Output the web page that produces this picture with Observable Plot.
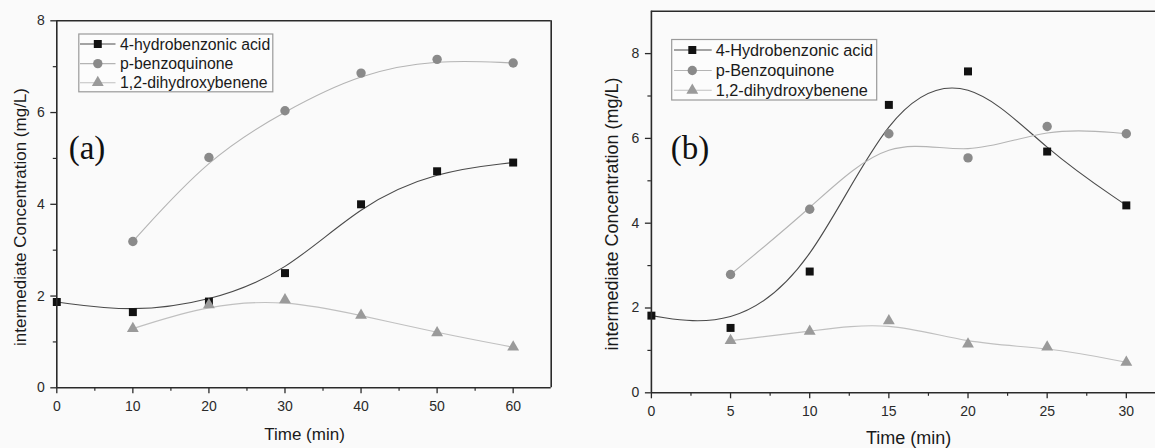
<!DOCTYPE html>
<html><head><meta charset="utf-8">
<script src="https://cdn.jsdelivr.net/npm/d3@7"></script>
<script src="https://cdn.jsdelivr.net/npm/@observablehq/plot@0.6"></script>
<style>
html,body{margin:0;padding:0;background:#fafafa;overflow:hidden;}
#wrap{position:relative;width:1155px;height:448px;overflow:hidden;background:#fafafa;}
#wrap svg{position:absolute;top:0;}
</style></head><body><div id="wrap"></div>
<script>
// ---------- Panel (a) data ----------
const timeA = [0, 10, 20, 30, 40, 50, 60];
const acidA = [1.87, 1.65, 1.88, 2.50, 4.00, 4.72, 4.91];
const timeA2 = [10, 20, 30, 40, 50, 60];
const quinoneA = [3.19, 5.02, 6.04, 6.86, 7.16, 7.08];
const catecholA = [1.29, 1.81, 1.92, 1.58, 1.20, 0.885];
const namesA = ["4-hydrobenzonic acid", "p-benzoquinone", "1,2-dihydroxybenene"];
const xTicksA = [0, 10, 20, 30, 40, 50, 60];
const xMinorA = [5, 15, 25, 35, 45, 55];
const yTicksA = [0, 2, 4, 6, 8];
const yMinorA = [1, 3, 5, 7];

// ---------- Panel (b) data ----------
const timeB = [0, 5, 10, 15, 20, 25, 30];
const acidB = [1.82, 1.53, 2.86, 6.79, 7.58, 5.69, 4.42];
const timeB2 = [5, 10, 15, 20, 25, 30];
const quinoneB = [2.79, 4.33, 6.11, 5.54, 6.28, 6.11];
const catecholB = [1.23, 1.45, 1.70, 1.15, 1.08, 0.72];
const namesB = ["4-Hydrobenzonic acid", "p-Benzoquinone", "1,2-dihydroxybenene"];
const xTicksB = [0, 5, 10, 15, 20, 25, 30];
const xMinorB = [2.5, 7.5, 12.5, 17.5, 22.5, 27.5];
const yTicksB = [0, 2, 4, 6, 8];
const yMinorB = [1, 3, 5, 7];

const yTitle = "intermediate Concentration (mg/L)";
const xTitle = "Time (min)";

const styles = [
  {symbol: "square",   fill: "#111111", line: "#4a4a4a", r: 4.5},
  {symbol: "circle",   fill: "#8a8a8a", line: "#b4b4b4", r: 4.7},
  {symbol: "triangle", fill: "#9a9a9a", line: "#c0c0c0", r: 4.4}
];
const FONT = "'Liberation Sans', Arial, sans-serif";
const AXIS = "#2a2a2a";

function zip(xs, ys) { return xs.map((x, i) => ({x, y: ys[i]})); }

function panel(cfg) {
  const marks = [];
  cfg.series.forEach((s, i) => {
    const st = styles[i];
    marks.push(Plot.line(s, {x: "x", y: "y", curve: "basis", stroke: st.line, strokeWidth: 1.1}));
  });
  cfg.series.forEach((s, i) => {
    const st = styles[i];
    marks.push(Plot.dot(s, {x: "x", y: "y", symbol: () => st.symbol, fill: st.fill, r: st.r, stroke: "none"}));
  });
  marks.push(
    Plot.axisX(cfg.xTicks, {tickSize: 6, tickPadding: 7, fontSize: 14, color: AXIS, strokeWidth: 1.3, label: null}),
    Plot.axisX(cfg.xMinor, {tickSize: 3.5, tickFormat: () => "", color: AXIS, strokeWidth: 1.2, label: null}),
    Plot.axisY(cfg.yTicks, {tickSize: 6, tickPadding: 6, fontSize: 14, color: AXIS, strokeWidth: 1.3, label: null}),
    Plot.axisY(cfg.yMinor, {tickSize: 3.5, tickFormat: () => "", color: AXIS, strokeWidth: 1.2, label: null}),
    Plot.ruleY([0], {stroke: AXIS, strokeWidth: 1.6}),
    Plot.ruleX([0], {stroke: AXIS, strokeWidth: 1.6}),
    Plot.ruleY([cfg.yDomain[1]], {stroke: AXIS, strokeWidth: 1.6})
  );
  if (cfg.rightFrame) marks.push(Plot.ruleX([cfg.xDomain[1]], {stroke: AXIS, strokeWidth: 1.6}));
  const svg = Plot.plot({
    width: cfg.width, height: 448,
    marginLeft: cfg.ml, marginRight: cfg.mr, marginTop: cfg.mt, marginBottom: cfg.mb,
    x: {domain: cfg.xDomain},
    y: {domain: cfg.yDomain},
    style: {fontFamily: FONT, background: "transparent", overflow: "visible"},
    marks
  });
  svg.style.left = cfg.left + "px";
  const g = d3.select(svg);
  // axis titles
  g.append("text").attr("x", cfg.xt[0]).attr("y", cfg.xt[1]).attr("text-anchor", "middle")
    .attr("font-family", FONT).attr("font-size", cfg.titleSize).attr("fill", "#1a1a1a").text(xTitle);
  g.append("text").attr("transform", `translate(${cfg.yt[0]},${cfg.yt[1]}) rotate(-90)`)
    .attr("text-anchor", "middle").attr("dy", "0.35em")
    .attr("font-family", FONT).attr("font-size", cfg.titleSize).attr("fill", "#1a1a1a").text(yTitle);
  // panel label
  g.append("text").attr("x", cfg.tag[0]).attr("y", cfg.tag[1]).attr("text-anchor", "middle").attr("dy", "0.35em")
    .attr("font-family", "'Liberation Serif', 'Times New Roman', serif").attr("font-size", 33).attr("fill", "#111")
    .text(cfg.tagText);
  // legend
  const L = cfg.legend;
  g.append("rect").attr("x", L.x0).attr("y", L.y0).attr("width", L.x1 - L.x0).attr("height", L.y1 - L.y0)
    .attr("fill", "#fcfcfc").attr("stroke", "#9a9a9a").attr("stroke-width", 1.2);
  cfg.names.forEach((name, i) => {
    const st = styles[i];
    const y = L.rows[i];
    g.append("line").attr("x1", L.lx0).attr("x2", L.lx1).attr("y1", y).attr("y2", y)
      .attr("stroke", st.line).attr("stroke-width", 1.1);
    const sym = {square: d3.symbolSquare, circle: d3.symbolCircle, triangle: d3.symbolTriangle}[st.symbol];
    g.append("path").attr("d", d3.symbol(sym, Math.PI * st.r * st.r)())
      .attr("transform", `translate(${L.mx},${y})`).attr("fill", st.fill);
    g.append("text").attr("x", L.tx).attr("y", y).attr("dy", "0.35em").attr("text-anchor", "start")
      .attr("font-family", FONT).attr("font-size", L.fs).attr("fill", "#1a1a1a").text(name);
  });
  document.getElementById("wrap").appendChild(svg);
}

panel({
  left: 0, width: 575, ml: 56.3, mr: 24.3, mt: 20.3, mb: 60.7,
  xDomain: [0, 65], yDomain: [0, 8], rightFrame: true,
  xTicks: xTicksA, xMinor: xMinorA, yTicks: yTicksA, yMinor: yMinorA,
  series: [zip(timeA, acidA), zip(timeA2, quinoneA), zip(timeA2, catecholA)],
  names: namesA, titleSize: 17,
  xt: [304.5, 440], yt: [20.4, 217],
  tag: [87, 147], tagText: "(a)",
  legend: {x0: 78.8, y0: 34, x1: 272.8, y1: 91.8, rows: [44, 63.6, 82.7], lx0: 80, lx1: 115.5, mx: 97.8, tx: 120, fs: 15.8}
});

panel({
  left: 575, width: 591, ml: 75.9, mr: 0.6, mt: 10.7, mb: 55.7,
  xDomain: [0, 32.5], yDomain: [0, 9], rightFrame: false,
  xTicks: xTicksB, xMinor: xMinorB, yTicks: yTicksB, yMinor: yMinorB,
  series: [zip(timeB, acidB), zip(timeB2, quinoneB), zip(timeB2, catecholB)],
  names: namesB, titleSize: 18,
  xt: [333.7, 443.5], yt: [37, 214],
  tag: [115, 147], tagText: "(b)",
  legend: {x0: 96.7, y0: 39.5, x1: 301.7, y1: 100, rows: [50, 70.5, 90.3], lx0: 99, lx1: 136.7, mx: 117.3, tx: 140.7, fs: 16.3}
});
</script></body></html>
